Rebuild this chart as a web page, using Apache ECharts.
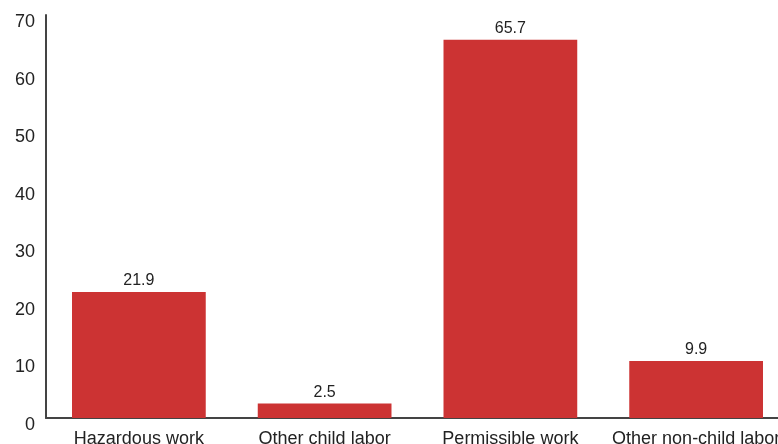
<!DOCTYPE html>
<html>
<head>
<meta charset="utf-8">
<script src="https://cdn.jsdelivr.net/npm/echarts@6/dist/echarts.min.js"></script>
<style>
html,body{margin:0;padding:0;background:#fff;}
#chart{width:778px;height:444px;}
</style>
</head>
<body>
<div id="chart"></div>
<script>
const categories = ["Hazardous work", "Other child labor", "Permissible work", "Other non-child labor"];
const values = [21.9, 2.5, 65.7, 9.9];
const yTicks = [0, 10, 20, 30, 40, 50, 60, 70];

const chart = echarts.init(document.getElementById('chart'));
chart.setOption({
  animation: false,
  backgroundColor: '#ffffff',
  textStyle: { fontFamily: 'Liberation Sans, Arial, sans-serif' },
  grid: { left: 46, width: 743, top: 15, height: 403, containLabel: false, outerBoundsMode: 'none' },
  xAxis: {
    type: 'category',
    data: categories,
    axisLine: { show: true, lineStyle: { color: '#444', width: 2 } },
    axisTick: { show: false },
    axisLabel: { color: '#222', fontSize: 18, margin: 12, interval: 0, fontFamily: 'Liberation Sans, Arial, sans-serif' }
  },
  yAxis: {
    type: 'value',
    min: yTicks[0],
    max: yTicks[yTicks.length - 1],
    interval: 10,
    axisLine: { show: true, lineStyle: { color: '#444', width: 2 } },
    axisTick: { show: false },
    splitLine: { show: false },
    axisLabel: { color: '#222', fontSize: 18, margin: 11, verticalAlign: 'top', lineHeight: 14, fontFamily: 'Liberation Sans, Arial, sans-serif' }
  },
  series: [{
    type: 'bar',
    data: values,
    barCategoryGap: '28%',
    itemStyle: { color: '#cc3333' },
    label: { show: true, position: 'top', distance: 3, color: '#222', fontSize: 16, fontFamily: 'Liberation Sans, Arial, sans-serif' }
  }]
});
</script>
</body>
</html>
